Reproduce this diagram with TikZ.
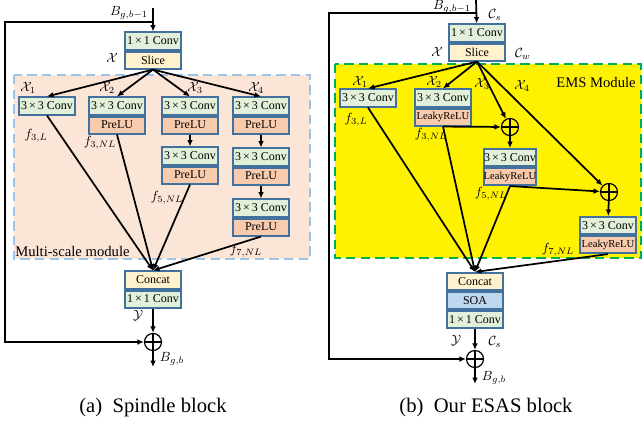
\documentclass[tikz,border=0pt]{standalone}
\usepackage{fontspec}
\setmainfont{Liberation Serif}
\usetikzlibrary{arrows.meta,positioning}
\definecolor{boxblue}{RGB}{65,113,156}
\definecolor{convgreen}{RGB}{226,240,217}
\definecolor{slicecream}{RGB}{255,242,204}
\definecolor{actpeach}{RGB}{248,203,173}
\definecolor{soablue}{RGB}{189,215,238}
\definecolor{msfill}{RGB}{251,229,214}
\definecolor{msdash}{RGB}{157,195,230}
\definecolor{emsgreen}{RGB}{0,176,80}
\newcommand{\cellfont}{\fontsize{9}{10}\selectfont}
\newcommand{\kconv}[1]{#1\,\texttimes\,#1 Conv}

\begin{document}
\begin{tikzpicture}[x=0.0264cm,y=-0.0264cm,
    cell/.style={rectangle,draw=boxblue,line width=1.5pt,minimum width=1.5cm,
      minimum height=4.5mm,inner sep=0pt,font=\cellfont},
    conv/.style={cell,fill=convgreen},
    slice/.style={cell,fill=slicecream},
    act/.style={cell,fill=actpeach},
    leaky/.style={cell,fill=actpeach,font=\fontsize{8}{9}\selectfont},
    soa/.style={cell,fill=soablue},
    addnode/.style={circle,draw,line width=0.9pt,minimum size=4.5mm,inner sep=0pt,
      path picture={\draw[line width=0.9pt] (path picture bounding box.north) -- (path picture bounding box.south)
        (path picture bounding box.west) -- (path picture bounding box.east);}},
    flow/.style={-{Latex[length=1.7mm,width=1.5mm]},line width=1.3pt},
    sym/.style={font=\fontsize{10}{12}\selectfont,inner sep=0pt},
    regionlabel/.style={font=\fontsize{11}{13}\selectfont,inner sep=0pt},
    subcap/.style={font=\fontsize{15.5}{18}\selectfont,inner sep=0pt},
    msregion/.style={fill=msfill,draw=msdash,line width=1.5pt,dash pattern=on 7pt off 4pt},
    emsregion/.style={fill=yellow,draw=emsgreen,line width=1.5pt,dash pattern=on 7pt off 4pt}
  ]
    \useasboundingbox (0,0) rectangle (644,425);
    \clip (0,0) rectangle (644,425);

    % (a) spindle block
    \draw[msregion] (14,75) rectangle (310,259);
    \node[regionlabel,anchor=west] (msname) at (15,251) {Multi-scale module};

    \node[conv] (convA) at (153,41) {\kconv{1}};
    \node[slice,below=0pt of convA] (sliceA) {Slice};

    \node[conv] (convA1) at (47,106) {\kconv{3}};
    \node[conv] (convA2) at (117,106) {\kconv{3}};
    \node[act,below=0pt of convA2] (actA2) {PreLU};
    \node[conv] (convA3) at (190,106) {\kconv{3}};
    \node[act,below=0pt of convA3] (actA3) {PreLU};
    \node[conv] (convA4) at (261,106) {\kconv{3}};
    \node[act,below=0pt of convA4] (actA4) {PreLU};
    \node[conv] (convA3b) at (190,156) {\kconv{3}};
    \node[act,below=0pt of convA3b] (actA3b) {PreLU};
    \node[conv] (convA4b) at (261,157) {\kconv{3}};
    \node[act,below=0pt of convA4b] (actA4b) {PreLU};
    \node[conv] (convA4c) at (261,208) {\kconv{3}};
    \node[act,below=0pt of convA4c] (actA4c) {PreLU};

    \node[slice] (concatA) at (153,280) {Concat};
    \node[conv,below=0pt of concatA] (fuseA) {\kconv{1}};
    \node[addnode] (addA) at (153,342) {};

    \coordinate (inA) at (153,8);
    \coordinate (splitA) at (153,22);
    \coordinate (turnA) at (5,22);
    \coordinate (outA) at (153,367);

    \draw[flow] (inA) -- (convA);
    \draw[flow] (splitA) -- (turnA) |- (addA);
    \draw[flow] (sliceA.south) -- (convA1.north);
    \draw[flow] (sliceA.south) -- (convA2.north);
    \draw[flow] (sliceA.south) -- (convA3.north);
    \draw[flow] (sliceA.south) -- (convA4.north);
    \draw[flow] (actA3) -- (convA3b);
    \draw[flow] (actA4) -- (convA4b);
    \draw[flow] (actA4b) -- (convA4c);
    \draw[flow] (convA1.south) -- (concatA.north);
    \draw[flow] (actA2.south) -- (concatA.north);
    \draw[flow] (actA3b.south) -- (concatA.north);
    \draw[flow] (actA4c.south) -- (concatA.north);
    \draw[flow] (fuseA) -- (addA);
    \draw[flow] (addA) -- (outA);

    \node[sym] (binA) at (129,13) {$B_{g,b-1}$};
    \node[sym] (xA) at (112,58) {$\mathcal{X}$};
    \node[sym] (xA1) at (28,88) {$\mathcal{X}_1$};
    \node[sym] (xA2) at (107,88) {$\mathcal{X}_2$};
    \node[sym] (xA3) at (195,88) {$\mathcal{X}_3$};
    \node[sym] (xA4) at (256,88) {$\mathcal{X}_4$};
    \node[sym] (fA3L) at (36,136) {$f_{3,L}$};
    \node[sym] (fA3N) at (100,143) {$f_{3,NL}$};
    \node[sym] (fA5N) at (167,198) {$f_{5,NL}$};
    \node[sym] (fA7N) at (246,251) {$f_{7,NL}$};
    \node[sym] (yA) at (138,316) {$\mathcal{Y}$};
    \node[sym] (boutA) at (172,359) {$B_{g,b}$};
    \node[subcap] (capA) at (153,408) {(a)\enspace Spindle block};

    % (b) ESAS block
    \draw[emsregion] (335,64) rectangle (641,258);
    \node[regionlabel] (emsname) at (596,82) {EMS Module};

    \node[conv] (convB) at (477,33) {\kconv{1}};
    \node[slice,below=0pt of convB] (sliceB) {Slice};

    \node[conv] (convB1) at (368,98) {\kconv{3}};
    \node[conv] (convB2) at (443,98) {\kconv{3}};
    \node[leaky,below=0pt of convB2] (actB2) {LeakyReLU};
    \node[addnode] (addB1) at (510,127) {};
    \node[conv,minimum width=1.38cm] (convB3) at (510,157.5) {\kconv{3}};
    \node[leaky,minimum width=1.38cm,below=0pt of convB3] (actB3) {LeakyReLU};
    \node[addnode] (addB2) at (609,192) {};
    \node[conv] (convB4) at (608,225.5) {\kconv{3}};
    \node[leaky,below=0pt of convB4] (actB4) {LeakyReLU};

    \node[slice] (concatB) at (475,281.5) {Concat};
    \node[soa,below=0pt of concatB] (soaB) {SOA};
    \node[conv,below=0pt of soaB] (fuseB) {\kconv{1}};
    \node[addnode] (addB) at (475,359) {};

    \coordinate (inB) at (476,0);
    \coordinate (splitB) at (476,13);
    \coordinate (turnB) at (329,13);
    \coordinate (outB) at (475,384);

    \draw[flow] (inB) -- (convB);
    \draw[flow] (splitB) -- (turnB) |- (addB);
    \draw[flow] (sliceB.south) -- (convB1.north);
    \draw[flow] (sliceB.south) -- (convB2.north);
    \draw[flow] (sliceB.south) -- (addB1);
    \draw[flow] (sliceB.south) -- (addB2);
    \draw[flow] (actB2.south) -- (addB1);
    \draw[flow] (addB1) -- (convB3);
    \draw[flow] (actB3.south) -- (addB2);
    \draw[flow] (addB2) -- (convB4);
    \draw[flow] (convB1.south) -- (concatB.north);
    \draw[flow] (actB2.south) -- (concatB.north);
    \draw[flow] (actB3.south) -- (concatB.north);
    \draw[flow] (actB4.south) -- (concatB.north);
    \draw[flow] (fuseB) -- (addB);
    \draw[flow] (addB) -- (outB);

    \node[sym] (binB) at (452,7) {$B_{g,b-1}$};
    \node[sym] (csB) at (495,15) {$\mathcal{C}_s$};
    \node[sym] (xB) at (437,52) {$\mathcal{X}$};
    \node[sym] (cwB) at (523,54) {$\mathcal{C}_w$};
    \node[sym] (xB1) at (360,82) {$\mathcal{X}_1$};
    \node[sym] (xB2) at (434,82) {$\mathcal{X}_2$};
    \node[sym] (xB3) at (482,84) {$\mathcal{X}_3$};
    \node[sym] (xB4) at (522,86) {$\mathcal{X}_4$};
    \node[sym] (fB3L) at (356,120) {$f_{3,L}$};
    \node[sym] (fB3N) at (431,135) {$f_{3,NL}$};
    \node[sym] (fB5N) at (491,194) {$f_{5,NL}$};
    \node[sym] (fB7N) at (558,250) {$f_{7,NL}$};
    \node[sym] (yB) at (456,341) {$\mathcal{Y}$};
    \node[sym] (csoutB) at (495,342) {$\mathcal{C}_s$};
    \node[sym] (boutB) at (494,378) {$B_{g,b}$};
    \node[subcap] (capB) at (486,408) {(b)\enspace Our ESAS block};
  \end{tikzpicture}
\end{document}
